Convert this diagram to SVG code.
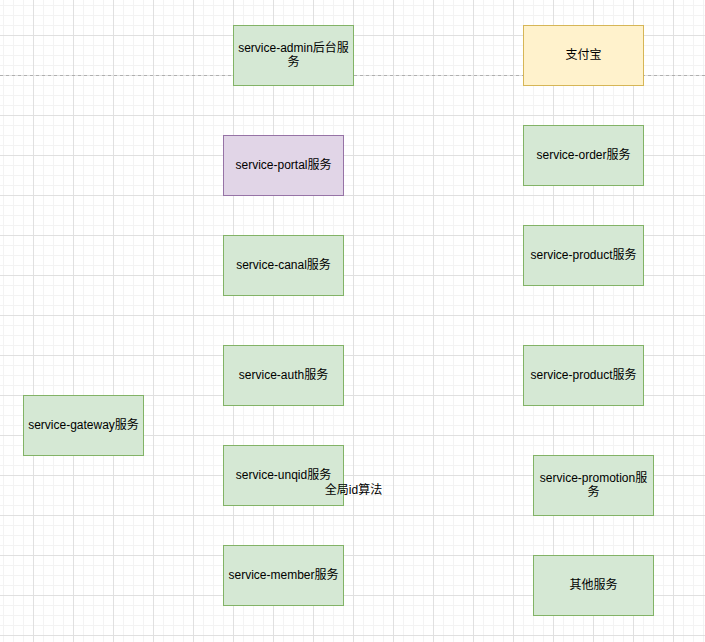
<svg xmlns="http://www.w3.org/2000/svg" width="705" height="642" viewBox="0 0 705 642">
<defs>
<pattern id="minor" patternUnits="userSpaceOnUse" x="3" y="5" width="10" height="10">
<path d="M0.5 0V10M0 0.5H10" fill="none" stroke="#f3f3f3" stroke-width="1"/>
</pattern>
<pattern id="major" patternUnits="userSpaceOnUse" x="33" y="35" width="40" height="40">
<path d="M0.5 0V40M0 0.5H40" fill="none" stroke="#e0e0e0" stroke-width="1"/>
</pattern>
</defs>
<style>
.g rect{fill:#d5e8d4;stroke:#82b366;stroke-width:1}
.p rect{fill:#e1d5e7;stroke:#9673a6;stroke-width:1}
.y rect{fill:#fff2cc;stroke:#d6b656;stroke-width:1}
text{font-family:"Liberation Sans","Noto Sans CJK SC",sans-serif;font-size:12px;fill:#000;text-anchor:middle;dominant-baseline:central}
</style>
<rect width="705" height="642" fill="#ffffff"/>
<rect width="705" height="642" fill="url(#minor)"/>
<rect width="705" height="642" fill="url(#major)"/>
<g id="connectors">
<line x1="0" y1="75.5" x2="705" y2="75.5" stroke="#b0b0b0" stroke-width="1" stroke-dasharray="3 3"/>
</g>
<g id="admin" class="g"><rect x="233.5" y="25.5" width="120" height="60"/><text x="293.5" y="47.5">service-admin后台服</text><text x="293.5" y="61.5">务</text></g>
<g id="alipay" class="y"><rect x="523.5" y="25.5" width="120" height="60"/><text x="583.5" y="54.5">支付宝</text></g>
<g id="portal" class="p"><rect x="223.5" y="135.5" width="120" height="60"/><text x="283.5" y="164.5">service-portal服务</text></g>
<g id="canal" class="g"><rect x="223.5" y="235.5" width="120" height="60"/><text x="283.5" y="264.5">service-canal服务</text></g>
<g id="auth" class="g"><rect x="223.5" y="345.5" width="120" height="60"/><text x="283.5" y="374.5">service-auth服务</text></g>
<g id="unqid" class="g"><rect x="223.5" y="445.5" width="120" height="60"/><text x="283.5" y="474.5">service-unqid服务</text></g>
<g id="unqid-label"><text x="353.5" y="489.5">全局id算法</text></g>
<g id="member" class="g"><rect x="223.5" y="545.5" width="120" height="60"/><text x="283.5" y="574.5">service-member服务</text></g>
<g id="gateway" class="g"><rect x="23.5" y="395.5" width="120" height="60"/><text x="83.5" y="424.5">service-gateway服务</text></g>
<g id="order" class="g"><rect x="523.5" y="125.5" width="120" height="60"/><text x="583.5" y="154.5">service-order服务</text></g>
<g id="product1" class="g"><rect x="523.5" y="225.5" width="120" height="60"/><text x="583.5" y="254.5">service-product服务</text></g>
<g id="product2" class="g"><rect x="523.5" y="345.5" width="120" height="60"/><text x="583.5" y="374.5">service-product服务</text></g>
<g id="promotion" class="g"><rect x="533.5" y="455.5" width="120" height="60"/><text x="593.5" y="477.5">service-promotion服</text><text x="593.5" y="491.5">务</text></g>
<g id="other" class="g"><rect x="533.5" y="555.5" width="120" height="60"/><text x="593.5" y="584.5">其他服务</text></g>
</svg>
